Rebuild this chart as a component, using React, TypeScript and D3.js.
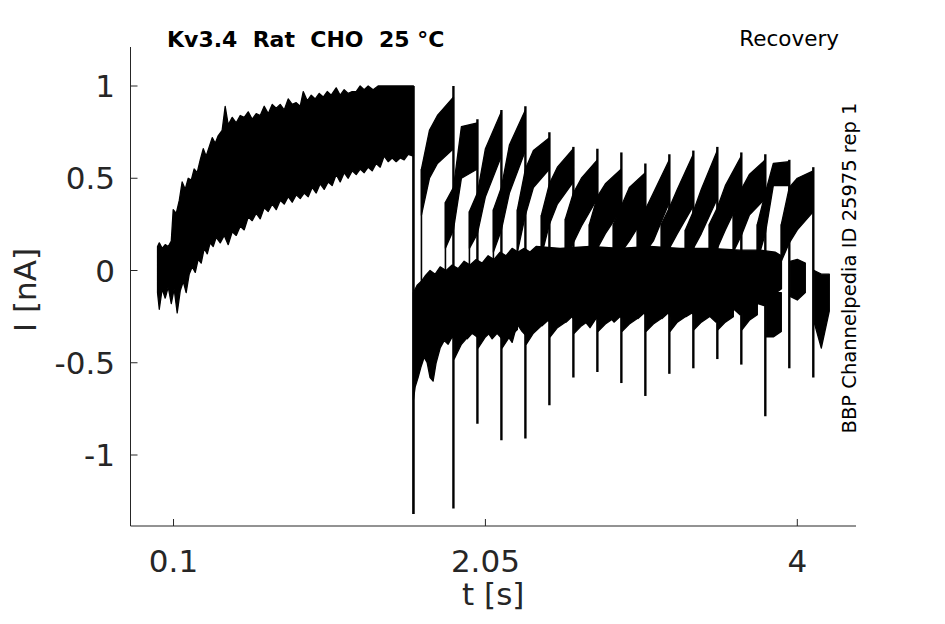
import React from 'react';
import * as d3 from 'd3';

// ---------- data (t in s, I in nA) ----------
const xTicks = [0.1, 2.05, 4];
const xTickLabels = ['0.1', '2.05', '4'];
const yTicks = [1, 0.5, 0, -0.5, -1];
const yTickLabels = ['1', '0.5', '0', '-0.5', '-1'];

// conditioning pulse: upper and lower edge of the noisy trace
const condHiT = [0, 0.011, 0.029, 0.048, 0.067, 0.086, 0.098, 0.117, 0.136, 0.154, 0.173, 0.192, 0.211, 0.229, 0.248, 0.267, 0.286, 0.304, 0.323, 0.342, 0.361, 0.379, 0.404, 0.423, 0.442, 0.467, 0.492, 0.517, 0.542, 0.567, 0.592, 0.617, 0.642, 0.667, 0.692, 0.717, 0.742, 0.767, 0.792, 0.817, 0.842, 0.867, 0.892, 0.911, 0.936, 0.961, 0.986, 1.011, 1.036, 1.061, 1.086, 1.117, 1.142, 1.167, 1.192, 1.217, 1.242, 1.267, 1.292, 1.317, 1.348, 1.379, 1.6];
const condHi = [0.13, 0.15, 0.12, 0.14, 0.13, 0.16, 0.33, 0.31, 0.38, 0.48, 0.44, 0.5, 0.49, 0.55, 0.53, 0.6, 0.66, 0.62, 0.67, 0.72, 0.69, 0.73, 0.76, 0.89, 0.79, 0.83, 0.8, 0.84, 0.83, 0.86, 0.82, 0.85, 0.84, 0.89, 0.85, 0.9, 0.88, 0.9, 0.87, 0.93, 0.9, 0.91, 0.89, 0.97, 0.92, 0.95, 0.93, 0.96, 0.94, 0.97, 0.95, 0.99, 0.95, 0.98, 0.96, 0.97, 0.97, 1, 0.98, 1, 0.98, 1, 1];
const condLoT = [0, 0.011, 0.029, 0.048, 0.067, 0.086, 0.104, 0.123, 0.142, 0.161, 0.179, 0.198, 0.217, 0.236, 0.254, 0.273, 0.292, 0.311, 0.329, 0.348, 0.367, 0.392, 0.417, 0.442, 0.467, 0.492, 0.517, 0.542, 0.567, 0.592, 0.617, 0.642, 0.667, 0.692, 0.717, 0.742, 0.767, 0.792, 0.817, 0.842, 0.867, 0.892, 0.917, 0.942, 0.967, 0.992, 1.017, 1.042, 1.067, 1.092, 1.117, 1.142, 1.167, 1.192, 1.217, 1.242, 1.267, 1.292, 1.317, 1.342, 1.367, 1.392, 1.417, 1.442, 1.467, 1.492, 1.517, 1.542, 1.567, 1.6];
const condLo = [-0.12, -0.21, -0.1, -0.15, -0.09, -0.18, -0.1, -0.23, -0.11, -0.06, -0.12, -0.02, 0.02, -0.01, 0.06, 0.04, 0.12, 0.09, 0.15, 0.13, 0.18, 0.15, 0.19, 0.14, 0.21, 0.19, 0.24, 0.22, 0.29, 0.27, 0.31, 0.28, 0.34, 0.32, 0.36, 0.33, 0.38, 0.36, 0.4, 0.37, 0.41, 0.39, 0.42, 0.4, 0.45, 0.42, 0.47, 0.44, 0.48, 0.46, 0.52, 0.48, 0.53, 0.5, 0.54, 0.52, 0.55, 0.53, 0.56, 0.54, 0.58, 0.56, 0.62, 0.59, 0.61, 0.59, 0.61, 0.6, 0.63, 0.62];
const condDropMin = -1.32;

// holding level between conditioning and test pulses
const baseHiT = [1.6, 1.623, 1.648, 1.673, 1.704, 1.736, 1.767, 1.804, 1.842, 1.879, 1.917, 1.954, 1.992, 2.029, 2.067, 2.104, 2.142, 2.179, 2.217, 2.254, 2.292, 2.329, 2.367, 2.517, 2.704, 2.892, 3.079, 3.267, 3.454, 3.642, 3.767, 3.861, 3.9];
const baseHi = [-0.12, -0.08, -0.06, -0.03, 0, -0.02, 0.02, 0, 0.03, 0.01, 0.05, 0.03, 0.06, 0.04, 0.08, 0.06, 0.1, 0.08, 0.12, 0.1, 0.12, 0.1, 0.13, 0.12, 0.13, 0.12, 0.13, 0.12, 0.12, 0.11, 0.11, 0.1, 0.08];
const baseLoT = [1.6, 1.611, 1.629, 1.648, 1.667, 1.686, 1.704, 1.723, 1.742, 1.767, 1.792, 1.817, 1.842, 1.873, 1.904, 1.936, 1.967, 1.998, 2.029, 2.061, 2.092, 2.123, 2.154, 2.186, 2.217, 2.248, 2.279, 2.311, 2.342, 2.373, 2.404, 2.442, 2.479, 2.517, 2.554, 2.592, 2.629, 2.667, 2.704, 2.742, 2.779, 2.817, 2.854, 2.892, 2.929, 2.967, 3.004, 3.042, 3.079, 3.117, 3.154, 3.192, 3.229, 3.267, 3.304, 3.342, 3.379, 3.417, 3.454, 3.492, 3.529, 3.567, 3.604, 3.642, 3.679, 3.717, 3.754, 3.792, 3.829, 3.867, 3.9];
const baseLo = [-0.7, -0.63, -0.58, -0.52, -0.47, -0.5, -0.58, -0.6, -0.5, -0.42, -0.38, -0.4, -0.36, -0.39, -0.35, -0.37, -0.34, -0.36, -0.36, -0.33, -0.37, -0.34, -0.37, -0.35, -0.39, -0.29, -0.33, -0.36, -0.3, -0.27, -0.3, -0.27, -0.3, -0.26, -0.28, -0.25, -0.3, -0.27, -0.31, -0.26, -0.27, -0.24, -0.28, -0.25, -0.27, -0.24, -0.26, -0.23, -0.27, -0.24, -0.26, -0.23, -0.27, -0.24, -0.25, -0.23, -0.26, -0.23, -0.25, -0.28, -0.23, -0.25, -0.21, -0.24, -0.21, -0.22, -0.18, -0.19, -0.14, -0.12, -0.1];

// test pulses (one per sweep)
const testStart = [1.65, 1.8, 1.95, 2.1, 2.25, 2.4, 2.55, 2.7, 2.85, 3.0, 3.15, 3.3, 3.45, 3.6, 3.75, 3.9];
const testEnd = [1.85, 2.0, 2.15, 2.3, 2.45, 2.6, 2.75, 2.9, 3.05, 3.2, 3.35, 3.5, 3.65, 3.8, 3.95, 4.1];
const testOffsets = [0, 0.05, 0.1, 0.2];
const testLo = [
  [0.3, 0.5, 0.58, 0.66], [0.12, 0.22, 0.5, 0.55], [0.12, 0.2, 0.4, 0.62], [0.1, 0.22, 0.42, 0.65],
  [0.1, 0.3, 0.45, 0.55], [0.08, 0.25, 0.36, 0.48], [0.05, 0.15, 0.24, 0.39], [0.05, 0.12, 0.2, 0.33],
  [0.05, 0.1, 0.16, 0.3], [0.05, 0.1, 0.16, 0.37], [0.05, 0.12, 0.2, 0.35], [0.05, 0.12, 0.2, 0.39],
  [0.05, 0.12, 0.22, 0.4], [0.1, 0.19, 0.3, 0.39], [0.05, 0.2, 0.46, 0.46], [0.05, 0.15, 0.22, 0.32],
];
const testHi = [
  [0.55, 0.76, 0.84, 0.94], [0.37, 0.45, 0.78, 0.8], [0.32, 0.42, 0.66, 0.86], [0.33, 0.45, 0.68, 0.87],
  [0.33, 0.55, 0.65, 0.72], [0.3, 0.47, 0.56, 0.66], [0.28, 0.42, 0.5, 0.6], [0.25, 0.4, 0.47, 0.55],
  [0.25, 0.35, 0.45, 0.53], [0.25, 0.33, 0.42, 0.6], [0.25, 0.34, 0.44, 0.63], [0.22, 0.32, 0.44, 0.65],
  [0.25, 0.34, 0.46, 0.62], [0.3, 0.44, 0.52, 0.6], [0.25, 0.42, 0.58, 0.59], [0.25, 0.45, 0.5, 0.54],
];
const testPeak = [1.0, 0.82, 0.87, 0.89, 0.75, 0.67, 0.66, 0.64, 0.58, 0.63, 0.65, 0.67, 0.64, 0.63, 0.6, 0.56];
const tailMin = [-1.29, -0.83, -0.92, -0.91, -0.73, -0.58, -0.55, -0.61, -0.68, -0.56, -0.53, -0.48, -0.51, -0.79, -0.53, -0.58];

// back at holding level after each test pulse
const postOffsets = [0.005, 0.05, 0.1];
const postLo = [
  [-0.48, -0.4, -0.35], [-0.42, -0.36, -0.32], [-0.42, -0.36, -0.32], [-0.4, -0.34, -0.3],
  [-0.36, -0.31, -0.28], [-0.34, -0.3, -0.27], [-0.33, -0.29, -0.26], [-0.33, -0.29, -0.26],
  [-0.33, -0.29, -0.26], [-0.33, -0.28, -0.25], [-0.32, -0.28, -0.25], [-0.32, -0.28, -0.25],
  [-0.32, -0.27, -0.24], [-0.36, -0.36, -0.33], [-0.14, -0.16, -0.12], [-0.28, -0.42, -0.22],
];
const postHi = [
  [-0.1, -0.05, 0], [-0.08, -0.02, 0.02], [-0.06, 0, 0.04], [-0.05, 0, 0.05],
  [-0.04, 0.02, 0.06], [-0.03, 0.03, 0.07], [-0.02, 0.04, 0.08], [-0.02, 0.04, 0.08],
  [-0.02, 0.04, 0.08], [-0.02, 0.04, 0.08], [-0.02, 0.04, 0.08], [-0.02, 0.04, 0.08],
  [-0.02, 0.04, 0.08], [-0.14, -0.12, -0.12], [0.05, 0.06, 0.04], [0, -0.02, -0.02],
];

const title = 'Kv3.4  Rat  CHO  25 °C';
const subtitle = 'Recovery';
const sideLabel = 'BBP Channelpedia ID 25975 rep 1';
const xLabel = 't [s]';
const yLabel = 'I [nA]';

type Pt = [number, number, number];

export default function App() {
  const W = 945, H = 624;
  const left = 130.5, right = 856, top = 47, bottom = 526;
  const x = d3.scaleLinear().domain([-0.169, 4.367]).range([left, right]);
  const y = d3.scaleLinear().domain([-1.3848, 1.2114]).range([bottom, top]);
  const axisColor = '#262626';
  const font = 'DejaVu Sans, sans-serif';

  const area = d3.area<Pt>().x(d => x(d[0])).y0(d => y(d[1])).y1(d => y(d[2]));
  const line = d3.line<[number, number]>().x(d => x(d[0])).y(d => y(d[1]));

  const polygon = (hiT: number[], hi: number[], loT: number[], lo: number[]) => {
    const up: [number, number][] = hiT.map((t, i) => [t, hi[i]]);
    const dn: [number, number][] = loT.map((t, i) => [t, lo[i]] as [number, number]).reverse();
    return (line([...up, ...dn]) || '') + 'Z';
  };

  const bandStyle = { fill: '#000', stroke: '#000', strokeWidth: 1.3, strokeLinejoin: 'round' as const };
  const tEndCond = condHiT[condHiT.length - 1];

  return (
    <svg width={W} height={H} style={{ position: 'absolute', left: 0, top: 0, background: '#fff' }}>
      <rect x={0} y={0} width={W} height={H} fill="#fff" />
      {/* conditioning pulse */}
      <path d={polygon(condHiT, condHi, condLoT, condLo)} {...bandStyle} />
      <line x1={x(tEndCond)} x2={x(tEndCond)} y1={y(1)} y2={y(condDropMin)} stroke="#000" strokeWidth={2.6} />
      {/* holding band */}
      <path d={polygon(baseHiT, baseHi, baseLoT, baseLo)} {...bandStyle} />
      {/* test pulses */}
      {testStart.map((ts, i) => {
        const pts: Pt[] = testOffsets.map((o, k) => [ts + o, testLo[i][k], testHi[i][k]]);
        const post: Pt[] = postOffsets.map((o, k) => [testEnd[i] + o, postLo[i][k], postHi[i][k]]);
        return (
          <g key={i}>
            <line x1={x(ts)} x2={x(ts)} y1={y(-0.1)} y2={y(testHi[i][0])} stroke="#000" strokeWidth={1.6} />
            <path d={area(pts) || ''} {...bandStyle} />
            <line x1={x(testEnd[i])} x2={x(testEnd[i])} y1={y(testPeak[i])} y2={y(tailMin[i])} stroke="#000" strokeWidth={2.4} />
            <path d={area(post) || ''} {...bandStyle} />
          </g>
        );
      })}
      {/* axes */}
      <line x1={left} x2={left} y1={top} y2={bottom} stroke={axisColor} strokeWidth={1} />
      <line x1={left} x2={right} y1={bottom} y2={bottom} stroke={axisColor} strokeWidth={1} />
      {yTicks.map((v, i) => (
        <g key={'y' + i}>
          <line x1={left} x2={left + 7} y1={y(v)} y2={y(v)} stroke={axisColor} strokeWidth={1} />
          <text x={115} y={y(v)} dy="0.36em" textAnchor="end" fontFamily={font} fontSize={31} fill={axisColor}>{yTickLabels[i]}</text>
        </g>
      ))}
      {xTicks.map((v, i) => (
        <g key={'x' + i}>
          <line x1={x(v)} x2={x(v)} y1={bottom} y2={bottom - 7} stroke={axisColor} strokeWidth={1} />
          <text x={x(v)} y={572} textAnchor="middle" fontFamily={font} fontSize={31} fill={axisColor}>{xTickLabels[i]}</text>
        </g>
      ))}
      <text x={(left + right) / 2} y={605} textAnchor="middle" fontFamily={font} fontSize={31} fill={axisColor}>{xLabel}</text>
      <text transform={`translate(36,290) rotate(-90)`} textAnchor="middle" fontFamily={font} fontSize={31} fill={axisColor}>{yLabel}</text>
      <text x={167} y={47} fontFamily={font} fontWeight="bold" fontSize={22} fill="#000" xmlSpace="preserve" style={{ whiteSpace: 'pre' }}>{title}</text>
      <text x={839} y={46} textAnchor="end" fontFamily={font} fontSize={21.5} fill="#000">{subtitle}</text>
      <text transform={`translate(856,268) rotate(-90)`} textAnchor="middle" fontFamily={font} fontSize={19.5} fill="#000">{sideLabel}</text>
    </svg>
  );
}
